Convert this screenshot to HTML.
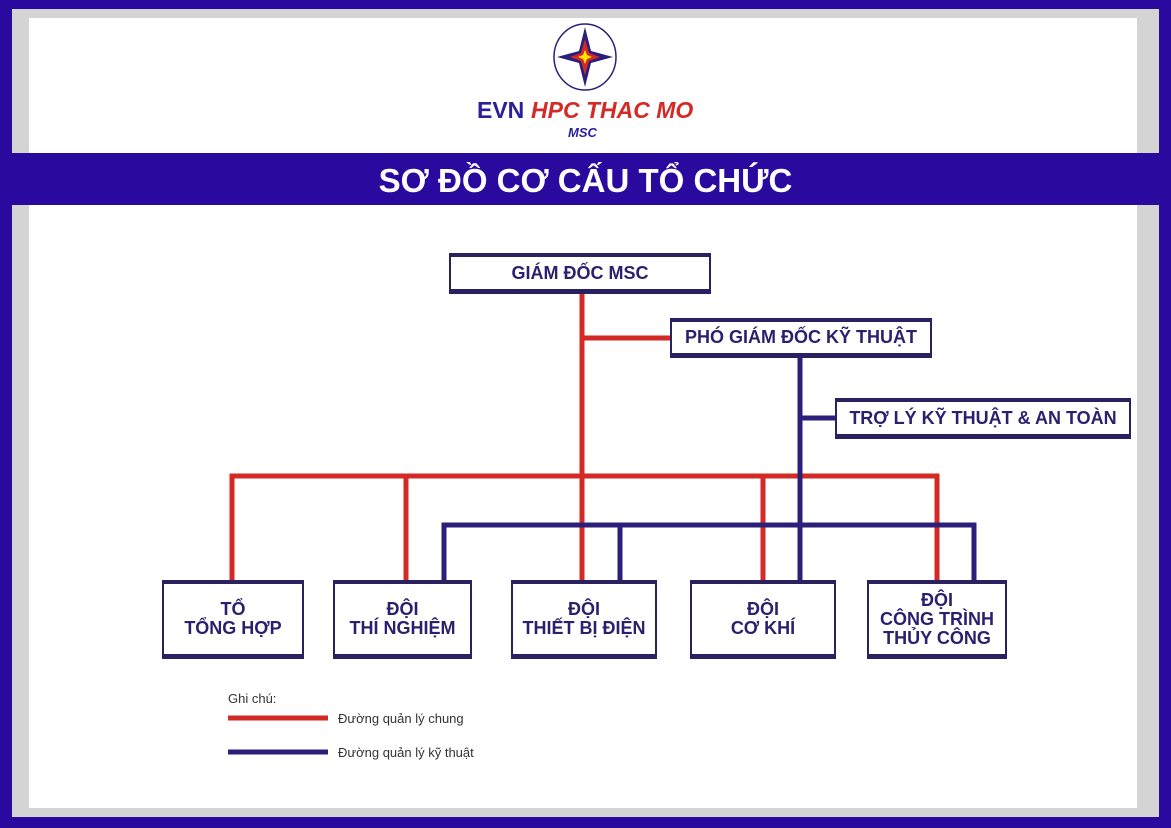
<!DOCTYPE html>
<html><head><meta charset="utf-8"><style>
body{margin:0;width:1171px;height:828px;overflow:hidden;background:#2a0a9e;font-family:"Liberation Sans",sans-serif;}
.abs{position:absolute}
.box{position:absolute;background:#fff;border:solid #2b2160;border-width:4px 2px 5px 2px;box-sizing:border-box;display:flex;align-items:center;justify-content:center;text-align:center;color:#2b1f6e;font-weight:bold;font-size:18px;line-height:19px}
</style></head><body>
<div class="abs" style="left:12px;top:9px;width:1147px;height:808px;background:#d4d4d4"></div>
<div class="abs" style="left:29px;top:18px;width:1108px;height:790px;background:#fff"></div>
<div class="abs" style="left:12px;top:153px;width:1147px;height:52px;background:#2a0a9e;color:#fff;font-size:33px;font-weight:bold;text-align:center;line-height:56px">SƠ ĐỒ CƠ CẤU TỔ CHỨC</div>
<svg class="abs" style="left:0;top:0" width="1171" height="828">
<ellipse cx="585" cy="57" rx="31" ry="33" fill="#fff" stroke="#2b1f7a" stroke-width="1.5"/>
<polygon points="585,27 591,51 613,57 591,63 585,87 579,63 557,57 579,51" fill="#2b1f7a"/>
<polygon points="585,39 589,53 600,57 589,61 585,75 581,61 570,57 581,53" fill="#d42a25"/>
<polygon points="585,50 587,55 592,57 587,59 585,64 583,59 578,57 583,55" fill="#ffe600"/>
<text x="477" y="118" font-size="23" font-weight="bold" fill="#2b1f9a" font-family="Liberation Sans">EVN</text>
<text x="531" y="118" font-size="23" font-weight="bold" font-style="italic" fill="#d42a25" font-family="Liberation Sans">HPC THAC MO</text>
<text x="568" y="137" font-size="13" font-weight="bold" font-style="italic" fill="#2b1f9a" font-family="Liberation Sans">MSC</text>
<g stroke-width="5" fill="none">
<path d="M582 293V580M582 338H670M232 580V476H937V580M406 476V580M763 476V580" stroke="#d42a25"/>
<path d="M800 357V580M800 418H835M444 580V525H974V580M620 525V580" stroke="#2b1f7a"/>
<path d="M228 718H328" stroke="#d42a25"/>
<path d="M228 752H328" stroke="#2b1f7a"/>
</g>
<g font-family="Liberation Sans" font-size="13" fill="#333">
<text x="228" y="703">Ghi chú:</text>
<text x="338" y="723">Đường quản lý chung</text>
<text x="338" y="757">Đường quản lý kỹ thuật</text>
</g>
</svg>
<div class="box" style="left:449px;top:253px;width:262px;height:41px">GIÁM ĐỐC MSC</div>
<div class="box" style="left:670px;top:318px;width:262px;height:40px">PHÓ GIÁM ĐỐC KỸ THUẬT</div>
<div class="box" style="left:835px;top:398px;width:296px;height:41px">TRỢ LÝ KỸ THUẬT &amp; AN TOÀN</div>
<div class="box" style="left:162px;top:580px;width:142px;height:79px">TỔ<br>TỔNG HỢP</div>
<div class="box" style="left:333px;top:580px;width:139px;height:79px">ĐỘI<br>THÍ NGHIỆM</div>
<div class="box" style="left:511px;top:580px;width:146px;height:79px">ĐỘI<br>THIẾT BỊ ĐIỆN</div>
<div class="box" style="left:690px;top:580px;width:146px;height:79px">ĐỘI<br>CƠ KHÍ</div>
<div class="box" style="left:867px;top:580px;width:140px;height:79px">ĐỘI<br>CÔNG TRÌNH<br>THỦY CÔNG</div>
</body></html>
